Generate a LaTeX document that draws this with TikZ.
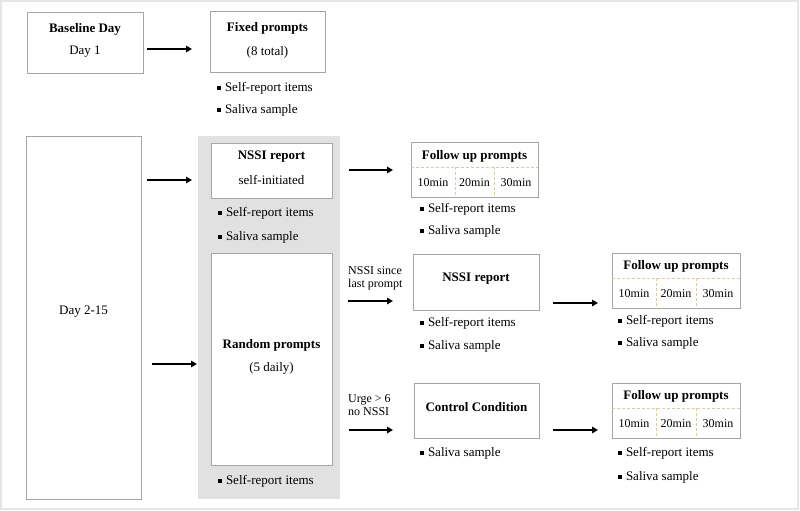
\documentclass[tikz,border=0pt]{standalone}
\usepackage{fontspec}
\setmainfont{Liberation Serif}
\usetikzlibrary{arrows.meta}
\definecolor{boxline}{HTML}{A6A6A6}
\definecolor{panel}{HTML}{E1E1E1}
\definecolor{frame}{HTML}{E6E6E6}
\definecolor{dashc}{HTML}{D8CDA0}
\newcommand\sqb{\rule[1.5pt]{3.8pt}{3.8pt}\hspace{4pt}}
\tikzset{
  every node/.style={font=\fontsize{13pt}{15pt}\selectfont, inner sep=0pt},
  box/.style={draw=boxline, line width=1pt, fill=white},
  ttl/.style={font=\fontsize{13pt}{15pt}\selectfont\bfseries},
  small/.style={font=\fontsize{12pt}{13pt}\selectfont},
  bul/.style={anchor=west},
  lbl/.style={anchor=west, align=left, font=\fontsize{12pt}{13pt}\selectfont},
  arr/.style={line width=1.8pt, -{Triangle[length=6pt,width=6.5pt]}},
  dsh/.style={draw=dashc, line width=0.9pt, dash pattern=on 3pt off 2pt},
}
\begin{document}
\begin{tikzpicture}[x=1pt,y=-1pt]
\useasboundingbox (0,0) rectangle (800,511);
\draw[frame, line width=2pt] (1,1) rectangle (798,509);

% top row
\node[box, minimum width=116pt, minimum height=60pt] (base) at (85,43) {};
\node[ttl] (baseT) at (85,29) {Baseline Day};
\node (baseS) at (85,52) {Day 1};
\node[box, minimum width=115pt, minimum height=60pt] (fixed) at (267.5,42) {};
\node[ttl] (fixedT) at (267.5,28) {Fixed prompts};
\node (fixedS) at (267.5,52) {(8 total)};
\node[bul] (fb1) at (217,88) {\sqb Self-report items};
\node[bul] (fb2) at (217,110) {\sqb Saliva sample};
\coordinate (a1s) at (147,49); \coordinate (a1e) at (192,49);
\draw[arr] (a1s) -- (a1e);

% day 2-15
\node[box, minimum width=115pt, minimum height=363pt] (day) at (83.5,317.5) {};
\node (dayT) at (83.5,312) {Day 2-15};
\fill[panel] (198,136) rectangle (340,499);
\coordinate (a2s) at (147,180); \coordinate (a2e) at (192,180);
\draw[arr] (a2s) -- (a2e);
\coordinate (a3s) at (152,364); \coordinate (a3e) at (197,364);
\draw[arr] (a3s) -- (a3e);

% NSSI self-initiated
\node[box, minimum width=121pt, minimum height=55pt] (nssi) at (271.5,170.5) {};
\node[ttl] (nssiT) at (271.5,157) {NSSI report};
\node (nssiS) at (271.5,180) {self-initiated};
\node[bul] (nb1) at (218,213) {\sqb Self-report items};
\node[bul] (nb2) at (218,237) {\sqb Saliva sample};

% random prompts
\node[box, minimum width=121pt, minimum height=212pt] (rand) at (271.5,359) {};
\node[ttl] (randT) at (271.5,345) {Random prompts};
\node (randS) at (271.5,368) {(5 daily)};
\node[bul] (rb1) at (218,481) {\sqb Self-report items};

% follow up 1
\coordinate (a4s) at (349,170); \coordinate (a4e) at (393,170);
\draw[arr] (a4s) -- (a4e);
\node[box, minimum width=127pt, minimum height=55pt] (fu1) at (474.5,169.5) {};
\node[ttl] (fu1T) at (474.5,156) {Follow up prompts};
\draw[dsh] (411,167) -- (538,167);
\draw[dsh] (455,167) -- (455,197);
\draw[dsh] (494,167) -- (494,197);
\node[small] (fu1a) at (433,183) {10min};
\node[small] (fu1b) at (474.5,183) {20min};
\node[small] (fu1c) at (516,183) {30min};
\node[bul] (f1b1) at (420,209) {\sqb Self-report items};
\node[bul] (f1b2) at (420,231) {\sqb Saliva sample};

% NSSI since last prompt
\node[lbl] (lab1) at (348,278.5) {NSSI since\\last prompt};
\coordinate (a5s) at (348,301); \coordinate (a5e) at (393,301);
\draw[arr] (a5s) -- (a5e);
\node[box, minimum width=126pt, minimum height=56pt] (nssi2) at (476,282) {};
\node[ttl] (nssi2T) at (476,279) {NSSI report};
\node[bul] (n2b1) at (420,323) {\sqb Self-report items};
\node[bul] (n2b2) at (420,346) {\sqb Saliva sample};
\coordinate (a6s) at (553,303); \coordinate (a6e) at (598,303);
\draw[arr] (a6s) -- (a6e);
\node[box, minimum width=128pt, minimum height=55pt] (fu2) at (676,280.5) {};
\node[ttl] (fu2T) at (676,266) {Follow up prompts};
\draw[dsh] (612,278) -- (740,278);
\draw[dsh] (656,278) -- (656,308);
\draw[dsh] (696,278) -- (696,308);
\node[small] (fu2a) at (634,294) {10min};
\node[small] (fu2b) at (676,294) {20min};
\node[small] (fu2c) at (718,294) {30min};
\node[bul] (f2b1) at (618,321) {\sqb Self-report items};
\node[bul] (f2b2) at (618,343) {\sqb Saliva sample};

% control condition
\node[lbl] (lab2) at (348,405.5) {Urge > 6\\no NSSI};
\coordinate (a7s) at (349,430); \coordinate (a7e) at (393,430);
\draw[arr] (a7s) -- (a7e);
\node[box, minimum width=125pt, minimum height=55pt] (ctrl) at (476.5,410.5) {};
\node[ttl] (ctrlT) at (476.5,407) {Control Condition};
\node[bul] (cb1) at (420,453) {\sqb Saliva sample};
\coordinate (a8s) at (553,430); \coordinate (a8e) at (598,430);
\draw[arr] (a8s) -- (a8e);
\node[box, minimum width=128pt, minimum height=55pt] (fu3) at (676,410.5) {};
\node[ttl] (fu3T) at (676,396) {Follow up prompts};
\draw[dsh] (612,408) -- (740,408);
\draw[dsh] (656,408) -- (656,438);
\draw[dsh] (696,408) -- (696,438);
\node[small] (fu3a) at (634,424) {10min};
\node[small] (fu3b) at (676,424) {20min};
\node[small] (fu3c) at (718,424) {30min};
\node[bul] (f3b1) at (618,453) {\sqb Self-report items};
\node[bul] (f3b2) at (618,477) {\sqb Saliva sample};
\end{tikzpicture}
\end{document}
